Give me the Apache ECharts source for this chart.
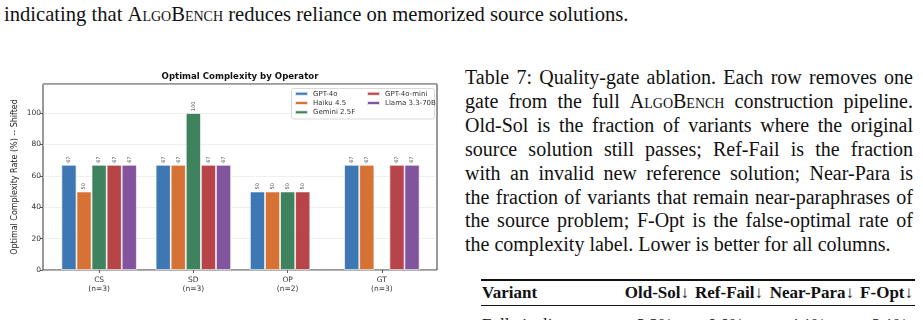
<!DOCTYPE html>
<html>
<head>
<meta charset="utf-8">
<script src="https://cdn.jsdelivr.net/npm/echarts@6/dist/echarts.min.js"></script>
<style>
  html, body { margin: 0; padding: 0; background: #fff; }
  body { width: 923px; height: 320px; overflow: hidden; position: relative;
         font-family: "Liberation Serif", "DejaVu Serif", serif; color: #111; }
  .sc { font-variant: small-caps; }
  #topline { position: absolute; left: 4px; top: 2px; font-size: 20.6px; line-height: 24px; white-space: nowrap; }
  #caption { position: absolute; left: 465px; top: 66px; width: 448px; font-size: 20px; line-height: 23.9px; }
  #caption .ln { text-align: justify; text-align-last: justify; white-space: nowrap; }
  #caption .last { text-align: left; text-align-last: left; white-space: nowrap; }
  .rule { position: absolute; left: 481px; width: 434px; background: #111; }
  .cell { position: absolute; font-size: 17px; line-height: 24px; white-space: nowrap; }
  .hd { font-weight: bold; }
  #chart { position: absolute; left: 0; top: 0; width: 460px; height: 320px; }
</style>
</head>
<body>
<div id="topline">indicating that <span class="sc">AlgoBench</span> reduces reliance on memorized source solutions.</div>

<div id="chart"></div>

<div id="caption">
  <div class="ln">Table 7: Quality-gate ablation. Each row removes one</div>
  <div class="ln">gate from the full <span class="sc">AlgoBench</span> construction pipeline.</div>
  <div class="ln">Old-Sol is the fraction of variants where the original</div>
  <div class="ln">source solution still passes; Ref-Fail is the fraction</div>
  <div class="ln">with an invalid new reference solution; Near-Para is</div>
  <div class="ln">the fraction of variants that remain near-paraphrases of</div>
  <div class="ln">the source problem; F-Opt is the false-optimal rate of</div>
  <div class="last">the complexity label. Lower is better for all columns.</div>
</div>

<div class="rule" style="top:279px;height:2px"></div>
<div class="cell hd" style="left:482px;top:281px">Variant</div>
<div class="cell hd" style="right:234px;top:281px">Old-Sol↓</div>
<div class="cell hd" style="right:160px;top:281px">Ref-Fail↓</div>
<div class="cell hd" style="right:69px;top:281px">Near-Para↓</div>
<div class="cell hd" style="right:10px;top:281px">F-Opt↓</div>
<div class="rule" style="top:305px;height:1px"></div>
<div class="cell" style="left:482px;top:313px">Full pipeline</div>
<div class="cell" style="left:637px;top:313px">3.2%</div>
<div class="cell" style="left:708px;top:313px">0.0%</div>
<div class="cell" style="left:790px;top:313px">4.1%</div>
<div class="cell" style="left:872px;top:313px">2.1%</div>

<script>
  // 数据
  var operators = ['CS', 'SD', 'OP', 'GT'];
  var counts = [3, 3, 2, 3];
  var models = ['GPT-4o', 'Haiku 4.5', 'Gemini 2.5F', 'GPT-4o-mini', 'Llama 3.3-70B'];
  var colors = ['#3471b0', '#d46a29', '#347b55', '#b23a3e', '#7b4b98'];
  var gpt4o = [67, 67, 50, 67];
  var haiku = [50, 67, 50, 67];
  var gemini = [67, 100, 50, null];
  var gpt4oMini = [67, 67, 50, 67];
  var llama = [67, 67, null, 67];

  var seriesValues = [gpt4o, haiku, gemini, gpt4oMini, llama];
  var categories = operators.map(function(op, i) { return op + '\n(n=' + counts[i] + ')'; });

  var myChart = echarts.init(document.getElementById('chart'));
  var font = 'DejaVu Sans';
  var yMax = 118.5;

  var series = models.map(function(name, i) {
    return {
      name: name,
      type: 'bar',
      xAxisIndex: 1,
      yAxisIndex: 1,
      barGap: '0%',
      barCategoryGap: '20%',
      data: seriesValues[i],
      itemStyle: {
        color: colors[i],
        opacity: 0.95,
        borderColor: 'rgba(255,255,255,0.85)',
        borderWidth: 0.8
      },
      label: {
        show: true,
        position: 'top',
        rotate: 90,
        align: 'left',
        verticalAlign: 'middle',
        distance: 2,
        fontSize: 5,
        fontFamily: font,
        color: '#333',
        formatter: function(p) { return p.value == null ? '' : String(p.value); }
      }
    };
  });

  var legendText = { fontSize: 7, lineHeight: 8.5, color: '#333', fontFamily: font };

  var option = {
    animation: false,
    backgroundColor: 'transparent',
    textStyle: { fontFamily: font },
    grid: [
      { left: 43, top: 84, width: 394, height: 186, show: true, borderColor: '#333', borderWidth: 1, backgroundColor: 'transparent' },
      { left: 52, top: 84, width: 377, height: 186 }
    ],
    xAxis: [
      { gridIndex: 0, type: 'value', min: 0, max: 1, show: false },
      {
        gridIndex: 1, type: 'category', data: categories,
        axisLine: { show: false },
        axisTick: { show: true, alignWithLabel: true, length: 3, lineStyle: { color: '#333', width: 0.8 } },
        axisLabel: { fontSize: 7.5, color: '#333', lineHeight: 9, margin: 6, fontFamily: font }
      }
    ],
    yAxis: [
      {
        gridIndex: 0, type: 'value', min: 0, max: yMax, interval: 20,
        name: 'Optimal Complexity Rate (%) -- Shifted',
        nameLocation: 'middle', nameGap: 24, nameMoveOverlap: false,
        nameTextStyle: { fontSize: 8, color: '#222', fontFamily: font },
        axisLine: { show: false },
        axisTick: { show: true, length: 3, lineStyle: { color: '#333', width: 0.8 } },
        axisLabel: { fontSize: 7.5, color: '#333', margin: 2, showMaxLabel: false, fontFamily: font },
        splitLine: { show: true, lineStyle: { color: '#d8d8d8', type: 'dotted', width: 0.8 } }
      },
      { gridIndex: 1, type: 'value', min: 0, max: yMax, show: false }
    ],
    legend: [
      {
        data: models.slice(0, 3), orient: 'vertical', left: 294, top: 89.5,
        icon: 'rect', itemWidth: 13, itemHeight: 4, itemGap: 0.8, padding: 0,
        textStyle: legendText, z: 6
      },
      {
        data: models.slice(3), orient: 'vertical', left: 366, top: 89.5,
        icon: 'rect', itemWidth: 13, itemHeight: 4, itemGap: 0.8, padding: 0,
        textStyle: legendText, z: 6
      }
    ],
    graphic: [
      {
        type: 'rect', z: 5,
        shape: { x: 291.5, y: 88.5, width: 143, height: 30.5, r: 2 },
        style: { fill: 'rgba(255,255,255,0.85)', stroke: '#cfcfcf', lineWidth: 0.8 }
      },
      {
        type: 'text', z: 6, x: 240, y: 77,
        style: { text: 'Optimal Complexity by Operator', fill: '#111', font: 'bold 8.6px "DejaVu Sans"', align: 'center', verticalAlign: 'middle' }
      }
    ],
    series: series
  };
  myChart.setOption(option);
  window.addEventListener('resize', function() {
    myChart.resize();
  });
</script>
</body>
</html>
